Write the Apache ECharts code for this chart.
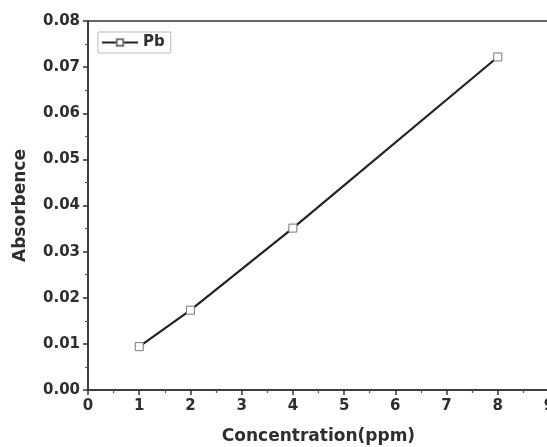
<!DOCTYPE html>
<html>
<head>
<meta charset="utf-8">
<script src="https://cdn.jsdelivr.net/npm/echarts@6/dist/echarts.min.js"></script>
<style>
  html, body { margin: 0; padding: 0; background: #fff; }
  #chart { width: 547px; height: 447px; }
</style>
</head>
<body>
<div id="chart"></div>
<script>
// Pb calibration data
const concentration = [1, 2, 4, 8];
const absorbence = [0.0094, 0.0173, 0.0351, 0.0722];
const seriesName = 'Pb';

const points = concentration.map((c, i) => [c, absorbence[i]]);
const textColor = '#2e2e2e';
const font = 'DejaVu Sans, sans-serif';

const chart = echarts.init(document.getElementById('chart'));
chart.setOption({
  animation: false,
  grid: {
    left: 88,
    width: 461,
    top: 21,
    height: 369,
    outerBoundsMode: 'none',
    containLabel: false,
    show: true,
    borderColor: '#333',
    borderWidth: 1.5,
  },
  legend: {
    data: [seriesName],
    left: 98,
    top: 32,
    padding: [3, 6, 3, 3],
    itemWidth: 36,
    itemHeight: 8,
    borderColor: '#bbb',
    borderWidth: 1,
    textStyle: { color: textColor, fontFamily: font, fontWeight: 'bold', fontSize: 15 },
  },
  xAxis: {
    type: 'value',
    min: 0,
    max: 9,
    interval: 1,
    name: 'Concentration(ppm)',
    nameLocation: 'middle',
    nameGap: 38,
    nameTextStyle: { color: textColor, fontFamily: font, fontWeight: 'bold', fontSize: 17 },
    splitLine: { show: false },
    axisLine: { lineStyle: { color: '#333', width: 1.5 } },
    axisTick: { length: 5, lineStyle: { color: '#333', width: 1.5 } },
    minorTick: { show: true, splitNumber: 2, length: 3, lineStyle: { color: '#555', width: 1.2 } },
    axisLabel: { color: textColor, fontFamily: font, fontWeight: 'bold', fontSize: 15, margin: 9 },
  },
  yAxis: {
    type: 'value',
    min: 0,
    max: 0.08,
    interval: 0.01,
    name: 'Absorbence',
    nameLocation: 'middle',
    nameGap: 59,
    nameTextStyle: { color: textColor, fontFamily: font, fontWeight: 'bold', fontSize: 17 },
    splitLine: { show: false },
    axisLine: { lineStyle: { color: '#333', width: 1.5 } },
    axisTick: { length: 5, lineStyle: { color: '#333', width: 1.5 } },
    minorTick: { show: true, splitNumber: 2, length: 3, lineStyle: { color: '#555', width: 1.2 } },
    axisLabel: {
      color: textColor, fontFamily: font, fontWeight: 'bold', fontSize: 15, margin: 8,
      formatter: (v) => v.toFixed(2),
    },
  },
  series: [{
    name: seriesName,
    type: 'line',
    data: points,
    symbol: 'rect',
    symbolSize: 8,
    lineStyle: { color: '#222', width: 2.2 },
    itemStyle: { color: '#fff', borderColor: '#777', borderWidth: 1 },
  }],
});
</script>
</body>
</html>
